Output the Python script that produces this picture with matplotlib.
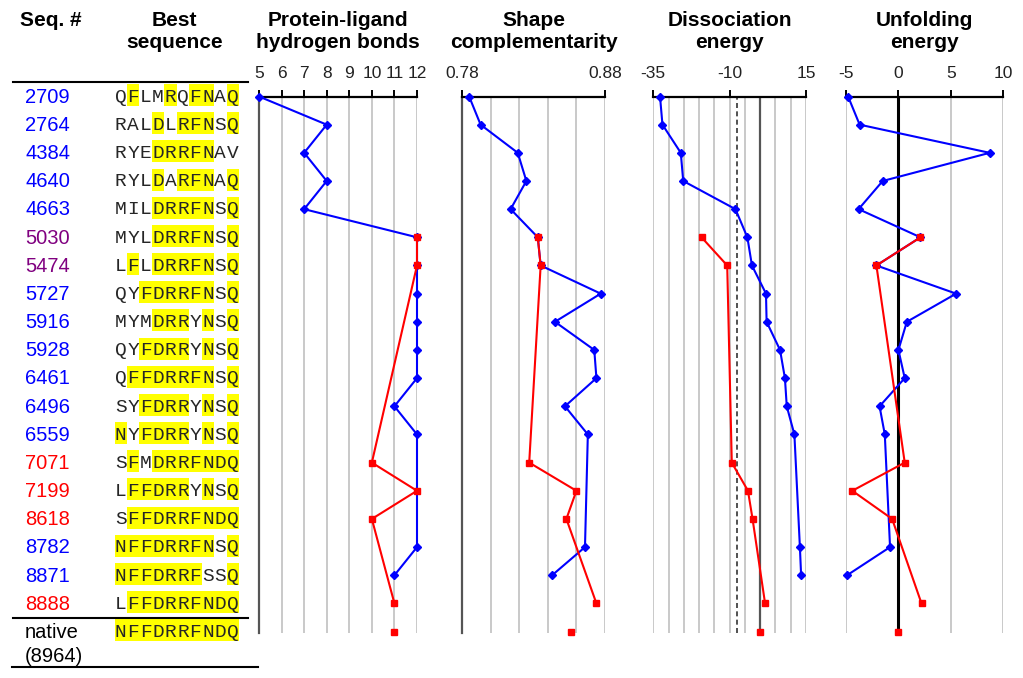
import numpy as np
import matplotlib.pyplot as plt
from matplotlib.patches import Rectangle

plt.rcParams['font.family'] = ['Liberation Sans', 'DejaVu Sans']

# --- data -------------------------------------------------------------
seq_ids = ['2709', '2764', '4384', '4640', '4663', '5030', '5474', '5727', '5916',
           '5928', '6461', '6496', '6559', '7071', '7199', '8618', '8782', '8871', '8888']
sequences = ['QFLMRQFNAQ', 'RALDLRFNSQ', 'RYEDRRFNAV', 'RYLDARFNAQ', 'MILDRRFNSQ',
             'MYLDRRFNSQ', 'LFLDRRFNSQ', 'QYFDRRFNSQ', 'MYMDRRYNSQ', 'QYFDRRYNSQ',
             'QFFDRRFNSQ', 'SYFDRRYNSQ', 'NYFDRRYNSQ', 'SFMDRRFNDQ', 'LFFDRRYNSQ',
             'SFFDRRFNDQ', 'NFFDRRFNSQ', 'NFFDRRFSSQ', 'LFFDRRFNDQ']
groups = ['b', 'b', 'b', 'b', 'b', 'p', 'p', 'b', 'b', 'b', 'b', 'b', 'b',
          'r', 'r', 'r', 'b', 'b', 'r']
native_seq = 'NFFDRRFNDQ'
native_label = 'native\n(8964)'

N = None
hbond_blue = [5, 8, 7, 8, 7, 12, 12, 12, 12, 12, 12, 11, 12, N, N, N, 12, 11, N]
hbond_red = [N, N, N, N, N, 12, 12, N, N, N, N, N, N, 10, 12, 10, N, N, 11]
hbond_native = 11

shape_blue = [0.785, 0.793, 0.819, 0.825, 0.814, 0.833, 0.835, 0.877, 0.845, 0.8725,
              0.874, 0.852, 0.868, N, N, N, 0.866, 0.843, N]
shape_red = [N, N, N, N, N, 0.833, 0.835, N, N, N, N, N, N, 0.827, 0.860, 0.853, N, N, 0.874]
shape_native = 0.856

diss_blue = [-32.8, -32.0, -26.0, -25.2, -8.1, -4.2, -2.7, 1.9, 2.1, 6.5, 8.1, 8.7,
             11.2, N, N, N, 13.0, 13.4, N]
diss_red = [N, N, N, N, N, -19.2, -10.8, N, N, N, N, N, N, -9.3, -4.0, -2.5, N, N, 1.6]
diss_native = 0.0
diss_cutoff = -7.5

unf_blue = [-4.8, -3.7, 8.7, -1.5, -3.8, 2.1, -2.1, 5.5, 0.8, 0.0, 0.6, -1.8, -1.3,
            N, N, N, -0.8, -4.9, N]
unf_red = [N, N, N, N, N, 2.1, -2.1, N, N, N, N, N, N, 0.6, -4.4, -0.6, N, N, 2.2]
unf_native = 0.0

# --- layout helpers (pixel coords of the 1023x678 picture) ------------
W, H = 1023, 678
def fx(px):
    return px / W
def fy(py):
    return 1 - py / H

top_px, bot_px = 96.5, 633
n_rows = len(seq_ids)
ylim = (19.05, 0)
ax_bottom = fy(bot_px)
ax_height = (bot_px - top_px) / H

blue, red, purple = '#0000ff', '#ff0000', '#800080'
grid_c = '#c0c0c0'
title_fs = 15

fig = plt.figure(figsize=(10.23, 6.78), dpi=100)

# --- left table -------------------------------------------------------
ax_t = fig.add_axes([0, ax_bottom, fx(260), ax_height])
ax_t.set_xlim(0, 260)
ax_t.set_ylim(*ylim)
ax_t.axis('off')

col_colors = {'b': blue, 'r': red, 'p': purple}
cell_w = 12.45
seq_x0 = 114.5

def draw_seq(seq, row):
    for i, ch in enumerate(seq):
        if ch == native_seq[i]:
            ax_t.add_patch(Rectangle((seq_x0 + i * cell_w, row - 0.44), cell_w, 0.78,
                                     facecolor='#ffff00', edgecolor='none', zorder=1,
                                     clip_on=False))
        ax_t.text(seq_x0 + (i + 0.5) * cell_w, row + 0.03, ch, ha='center', va='center',
                  family='Liberation Mono', fontsize=14, color='#262626', zorder=2,
                  clip_on=False)

for r, (sid, seq, g) in enumerate(zip(seq_ids, sequences, groups)):
    ax_t.text(25, r + 0.03, sid, ha='left', va='center', fontsize=14.5,
              color=col_colors[g], clip_on=False)
    draw_seq(seq, r)

draw_seq(native_seq, n_rows)
ax_t.text(25, n_rows + 0.03, native_label.split('\n')[0], ha='left', va='center',
          fontsize=14.5, color='black', clip_on=False)
ax_t.text(25, n_rows + 0.88, native_label.split('\n')[1], ha='left', va='center',
          fontsize=14.5, color='black', clip_on=False)

for yrow, x0, x1 in [(-0.5, 13, 248), (n_rows - 0.5, 13, 248), (20.26, 12, 258)]:
    ax_t.plot([x0, x1], [yrow, yrow], color='black', lw=1.5, clip_on=False)

fig.text(fx(51), fy(20), 'Seq. #', ha='center', va='center', fontsize=title_fs,
         fontweight='bold')
fig.text(fx(174.5), fy(20), 'Best', ha='center', va='center', fontsize=title_fs,
         fontweight='bold')
fig.text(fx(174.5), fy(43), 'sequence', ha='center', va='center', fontsize=title_fs,
         fontweight='bold')

# --- panels -----------------------------------------------------------
panels = [
    dict(px=(259, 417), lim=(5, 12), ticks=list(range(5, 13)), grid=list(range(6, 13)),
         left_dark=True, title=('Protein-ligand', 'hydrogen bonds'),
         blue=hbond_blue, red=hbond_red, native=hbond_native, fmt='{:g}'),
    dict(px=(462, 605), lim=(0.78, 0.88), ticks=[0.78, 0.88],
         grid=[0.80, 0.82, 0.84, 0.86, 0.88], left_dark=True,
         title=('Shape', 'complementarity'),
         blue=shape_blue, red=shape_red, native=shape_native, fmt='{:.2f}'),
    dict(px=(653.3, 806), lim=(-35, 15), ticks=[-35, -10, 15], grid=list(range(-35, 16, 5)),
         left_dark=False, title=('Dissociation', 'energy'),
         blue=diss_blue, red=diss_red, native=diss_native, fmt='{:g}'),
    dict(px=(846, 1003.3), lim=(-5, 10), ticks=[-5, 0, 5, 10], grid=[-5, 5, 10],
         left_dark=False, title=('Unfolding', 'energy'),
         blue=unf_blue, red=unf_red, native=unf_native, fmt='{:g}'),
]

rows = np.arange(n_rows)
for k, p in enumerate(panels):
    x0, x1 = p['px']
    ax = fig.add_axes([fx(x0), ax_bottom, fx(x1) - fx(x0), ax_height])
    ax.set_xlim(*p['lim'])
    ax.set_ylim(*ylim)
    ax.patch.set_alpha(0)
    for g in p['grid']:
        ax.axvline(g, color=grid_c, lw=1.2, zorder=0)
    if k == 2:
        ax.axvline(diss_cutoff, color='#333333', lw=1.2, ls=(0, (3, 2)), zorder=1)
        ax.axvline(diss_native, color='#555555', lw=1.6, zorder=1)
    if k == 3:
        ax.axvline(unf_native, color='black', lw=2.2, zorder=1)

    for s in ['bottom', 'right']:
        ax.spines[s].set_visible(False)
    ax.spines['top'].set_color('black')
    ax.spines['top'].set_linewidth(1.6)
    if p['left_dark']:
        ax.spines['left'].set_color('#555555')
        ax.spines['left'].set_linewidth(1.6)
    else:
        ax.spines['left'].set_visible(False)

    ax.xaxis.tick_top()
    ax.set_xticks(p['ticks'])
    ax.set_xticklabels([p['fmt'].format(t) for t in p['ticks']])
    ax.tick_params(axis='x', direction='out', length=5, width=1.4, pad=6,
                   labelsize=12.5, labelcolor='#222222')
    ax.set_yticks([])

    bv = np.array([np.nan if v is None else v for v in p['blue']], dtype=float)
    rv = np.array([np.nan if v is None else v for v in p['red']], dtype=float)
    mb = ~np.isnan(bv)
    mr = ~np.isnan(rv)
    ax.plot(bv[mb], rows[mb], color=blue, lw=1.5, marker='D', ms=4, zorder=3,
            clip_on=False)
    ax.plot(rv[mr], rows[mr], color=red, lw=1.5, marker='s', ms=4, zorder=4,
            clip_on=False)
    ax.plot([p['native']], [n_rows], color=red, marker='s', ms=4, ls='none', zorder=4,
            clip_on=False)

    xc = (x0 + x1) / 2
    fig.text(fx(xc), fy(20), p['title'][0], ha='center', va='center',
             fontsize=title_fs, fontweight='bold')
    fig.text(fx(xc), fy(43), p['title'][1], ha='center', va='center',
             fontsize=title_fs, fontweight='bold')

plt.savefig('out.png', dpi=100)
